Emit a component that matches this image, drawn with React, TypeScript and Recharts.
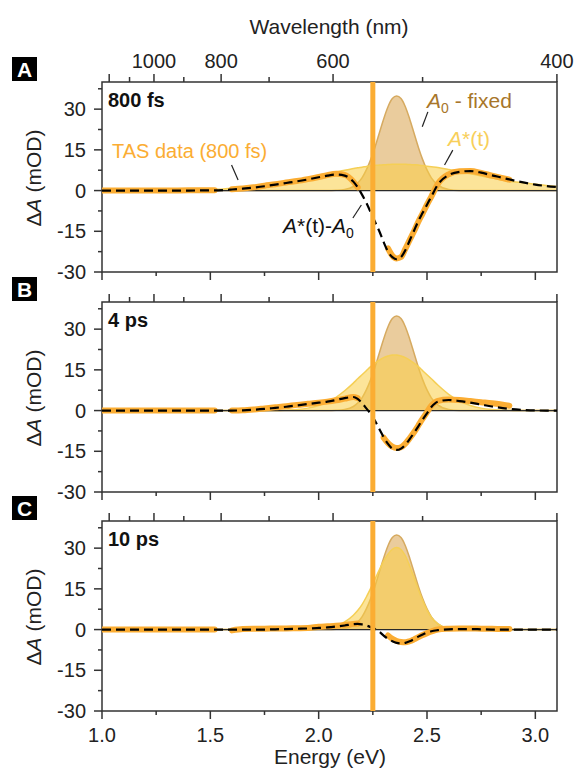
import React from 'react';
import { ComposedChart, Area, Line, XAxis, YAxis, ReferenceLine, ReferenceArea } from 'recharts';

// photon energy grid (eV) shared by every trace
const energy = [
  1.0, 1.1, 1.2, 1.3, 1.4, 1.5, 1.52, 1.56,
  1.6, 1.65, 1.7, 1.75, 1.8, 1.85, 1.9, 1.95,
  2.0, 2.04, 2.08, 2.12, 2.16, 2.18, 2.2, 2.22,
  2.24, 2.26, 2.28, 2.3, 2.32, 2.34, 2.36, 2.38,
  2.4, 2.42, 2.44, 2.46, 2.48, 2.5, 2.52, 2.55,
  2.6, 2.65, 2.7, 2.75, 2.8, 2.85, 2.88, 2.95,
  3.0, 3.05, 3.1,
];

// A0 - fixed (same in all panels), mOD
const a0Fixed = [
  0, 0, 0, 0, 0, 0, 0, 0,
  0, 0, 0, 0, 0, 0, 0, 0,
  0, 0, 0.1, 0.4, 1.5, 2.8, 4.7, 7.6,
  11.4, 16.0, 21.2, 26.4, 30.9, 33.9, 34.8, 33.9,
  30.9, 26.4, 21.2, 16.0, 11.4, 7.6, 4.7, 2.1,
  0.4, 0.05, 0, 0, 0, 0, 0, 0,
  0, 0, 0,
];

// panel A - 800 fs
const aStar800fs = [
  0, 0, 0, 0, 0, 0.3, 0.4, 0.6,
  0.9, 1.2, 1.6, 2.0, 2.6, 3.2, 3.9, 4.7,
  5.5, 6.2, 6.9, 7.5, 8.1, 8.4, 8.6, 8.9,
  9.1, 9.3, 9.4, 9.5, 9.6, 9.7, 9.7, 9.7,
  9.7, 9.6, 9.5, 9.4, 9.2, 9.0, 8.8, 8.5,
  7.8, 7.0, 6.2, 5.4, 4.6, 3.8, 3.4, 2.8,
  2.3, 1.9, 1.5,
];
const tas800fs = [
  0, 0, 0, 0, 0.1, 0.1, 0.1, null,
  0.5, 0.8, 1.2, 1.8, 2.3, 3.0, 3.5, 4.2,
  5.0, 5.7, 6.2, 5.8, 3.3, 1.2, null, null,
  null, null, null, null, -21.3, -24, -25, -24.5,
  -21.5, -18.2, -15, -11.5, -8.4, -5.2, -2.2, 2.5,
  6.0, 7.1, 7.2, 6.5, 5.5, 4.6, 4.0, null,
  null, null, null,
];
const fit800fs = [
  0, 0, 0, 0, 0, 0.1, 0.1, 0.2,
  0.4, 0.7, 1.1, 1.6, 2.2, 2.8, 3.4, 4.1,
  4.9, 5.5, 5.9, 5.5, 3.3, 1.2, -1.5, -4.5,
  -8, -11.5, -15, -19, -22.5, -24.5, -25.3, -24.5,
  -22, -18.4, -14.8, -11.2, -8.2, -5.2, -2.2, 2.2,
  5.7, 6.9, 7.2, 6.6, 5.6, 4.7, 4.1, 2.9,
  2.2, 1.7, 1.3,
];

// panel B - 4 ps
const aStar4ps = [
  0, 0, 0, 0, 0, 0, 0, 0,
  0, 0, 0, 0, 0, 0.15, 0.4, 0.9,
  1.9, 3.1, 4.9, 7.3, 10.1, 11.7, 13.2, 14.7,
  16.2, 17.5, 18.6, 19.5, 20.1, 20.5, 20.5, 20.1,
  19.5, 18.6, 17.5, 16.2, 14.7, 13.2, 11.7, 9.4,
  6.0, 3.5, 1.9, 0.9, 0.4, 0.15, 0.1, 0,
  0, 0, 0,
];
const tas4ps = [
  0, 0, 0, 0, 0, 0, 0, null,
  0, 0.1, 0.4, 0.8, 1.2, 1.6, 2.1, 2.5,
  2.9, 3.3, 3.8, 4.4, 5.0, 4.6, null, null,
  null, null, null, -10, -12, -13.3, -13.8, -13.5,
  -12.2, -10.2, -8, -5.5, -3, -0.6, 1.8, 3.6,
  4.1, 3.9, 3.5, 3.1, 2.7, 2.2, 1.8, null,
  null, null, null,
];
const fit4ps = [
  0, 0, 0, 0, 0, 0, 0, 0,
  0, 0.1, 0.3, 0.6, 1.0, 1.4, 1.9, 2.4,
  2.9, 3.3, 3.9, 4.6, 5.0, 4.3, 2.8, 0.8,
  -1.2, -3.8, -6.8, -9.8, -12.3, -14, -14.5, -14,
  -12.6, -10.5, -8.2, -5.8, -3.3, -1, 1.3, 3.3,
  3.9, 3.5, 2.9, 2.2, 1.5, 0.9, 0.6, 0.2,
  0.05, 0, 0,
];

// panel C - 10 ps
const aStar10ps = [
  0, 0, 0, 0, 0, 0, 0, 0,
  0, 0, 0, 0, 0, 0, 0, 0,
  0.1, 0.4, 1.1, 2.8, 5.3, 7.0, 9.2, 12.0,
  15.2, 18.6, 22.0, 25.2, 27.8, 29.6, 30.2, 29.5,
  27.2, 23.5, 19.2, 14.8, 10.7, 7.2, 4.6, 2.1,
  0.4, 0.05, 0, 0, 0, 0, 0, 0,
  0, 0, 0,
];
const tas10ps = [
  0, 0, 0, 0, 0, 0, 0, null,
  -0.3, 0.2, 0.3, 0.3, 0.4, 0.4, 0.5, 0.6,
  1.0, 1.2, 1.4, 1.7, 2.1, 2.2, null, null,
  null, null, null, null, -2.2, -3.4, -4.2, -4.6,
  -4.7, -4.3, -3.6, -2.8, -2.0, -1.3, -0.7, 0,
  0.3, 0.4, 0.4, 0.3, 0.3, 0.2, 0.2, null,
  null, null, null,
];
const fit10ps = [
  0, 0, 0, 0, 0, 0, 0, 0,
  0, 0, 0, 0, 0.1, 0.2, 0.3, 0.4,
  0.6, 0.8, 1.1, 1.5, 2.0, 2.1, 1.9, 1.5,
  0.9, 0.2, -0.8, -2.2, -3.4, -4.3, -4.9, -5.1,
  -4.9, -4.3, -3.5, -2.6, -1.8, -1.1, -0.6, -0.2,
  0.1, 0.2, 0.2, 0.1, 0, 0, 0, 0,
  0, 0, 0,
];

// axes
const yTicks = [-30, -22.5, -15, -7.5, 0, 7.5, 15, 22.5, 30, 37.5];
const yLabelTicks = [-30, -15, 0, 15, 30];
const eTicks = [1.0, 1.25, 1.5, 1.75, 2.0, 2.25, 2.5, 2.75, 3.0];
const eLabelTicks = [1.0, 1.5, 2.0, 2.5, 3.0];
const nmTicks = [1200, 1100, 1000, 900, 800, 700, 600, 500, 400];
const nmMajor = [1200, 1000, 800, 600, 400];
const nmLabels = [1000, 800, 600, 400];
const pumpEnergy = 2.25;

const nmToEv = (nm: number) => 1239.84 / nm;

const FONT = '"Liberation Sans", Arial, Helvetica, sans-serif';
const AXIS = '#333';
const TAS = '#fbad33';
const A0_FILL = '#d9a24c';
const A0_LINE = '#d6aa60';
const ASTAR_FILL = '#f9cd45';
const ASTAR_LINE = '#f5cf55';

const PLOT_LEFT = 102;
const PLOT_H = 190;
const PAD = 40;
const CHART_W = 578;
const CHART_H = PLOT_H + 2 * PAD;

const panels = [
  { letter: 'A', time: '800 fs', top: 82, aStar: aStar800fs, tas: tas800fs, fit: fit800fs },
  { letter: 'B', time: '4 ps', top: 302, aStar: aStar4ps, tas: tas4ps, fit: fit4ps },
  { letter: 'C', time: '10 ps', top: 521, aStar: aStar10ps, tas: tas10ps, fit: fit10ps },
];

const BottomTick = ({ x, payload, labels }: any) => {
  const v = payload.value;
  const major = eLabelTicks.some((t) => Math.abs(t - v) < 1e-6);
  const yb = PAD + PLOT_H;
  return (
    <g>
      <line x1={x} x2={x} y1={yb} y2={yb + (major ? 8 : 4)} stroke={AXIS} strokeWidth={1.5} />
      {labels && major && (
        <text x={x} y={yb + 31} textAnchor="middle" fontSize={20} fontFamily={FONT} fill="#222">
          {v.toFixed(1)}
        </text>
      )}
    </g>
  );
};

const TopTick = ({ x, payload, labels }: any) => {
  const nm = Math.round(1239.84 / payload.value);
  const major = nmMajor.includes(nm);
  const yt = PAD;
  return (
    <g>
      <line x1={x} x2={x} y1={yt} y2={yt - (major ? 8 : 5)} stroke={AXIS} strokeWidth={1.5} />
      {labels && nmLabels.includes(nm) && (
        <text x={x} y={yt - 14} textAnchor="middle" fontSize={20} fontFamily={FONT} fill="#222">
          {nm}
        </text>
      )}
    </g>
  );
};

const LeftTick = ({ y, payload }: any) => {
  const v = payload.value;
  const major = yLabelTicks.includes(v);
  return (
    <g>
      <line x1={PLOT_LEFT - (major ? 8 : 4)} x2={PLOT_LEFT} y1={y} y2={y} stroke={AXIS} strokeWidth={1.5} />
      {major && (
        <text x={PLOT_LEFT - 16} y={y + 7} textAnchor="end" fontSize={20} fontFamily={FONT} fill="#222">
          {v}
        </text>
      )}
    </g>
  );
};

function Panel({ p, first, last }: any) {
  const rows = energy.map((e, i) => ({
    e,
    a0: a0Fixed[i],
    aStar: p.aStar[i],
    tas: p.tas[i],
    fit: p.fit[i],
  }));

  return (
    <div style={{ position: 'absolute', left: 0, top: p.top - PAD, width: CHART_W, height: CHART_H }}>
      <ComposedChart
        width={CHART_W}
        height={CHART_H}
        data={rows}
        margin={{ top: PAD - 20, right: 21, bottom: PAD - 20, left: PLOT_LEFT - 60 }}
      >
        <XAxis
          xAxisId="e"
          dataKey="e"
          type="number"
          domain={[1, 3.1]}
          ticks={eTicks}
          interval={0}
          height={20}
          tickLine={false}
          axisLine={false}
          allowDataOverflow
          tick={(props: any) => <BottomTick {...props} labels={last} />}
        />
        <XAxis
          xAxisId="nm"
          dataKey="e"
          type="number"
          orientation="top"
          domain={[1, 3.1]}
          ticks={nmTicks.map(nmToEv)}
          interval={0}
          height={20}
          tickLine={false}
          axisLine={false}
          allowDataOverflow
          tick={(props: any) => <TopTick {...props} labels={first} />}
        />
        <YAxis
          type="number"
          domain={[-30, 40]}
          ticks={yTicks}
          interval={0}
          width={60}
          tickLine={false}
          axisLine={false}
          allowDataOverflow
          tick={(props: any) => <LeftTick {...props} />}
        />
        <Area
          xAxisId="e"
          dataKey="a0"
          type="monotone"
          fill={A0_FILL}
          fillOpacity={0.55}
          stroke={A0_LINE}
          strokeWidth={1.5}
          dot={false}
          activeDot={false}
          isAnimationActive={false}
        />
        <Area
          xAxisId="e"
          dataKey="aStar"
          type="monotone"
          fill={ASTAR_FILL}
          fillOpacity={0.55}
          stroke={ASTAR_LINE}
          strokeWidth={1.5}
          dot={false}
          activeDot={false}
          isAnimationActive={false}
        />
        <ReferenceLine xAxisId="e" y={0} stroke="#2a2a2a" strokeWidth={1.3} />
        <Line
          xAxisId="e"
          dataKey="tas"
          type="monotone"
          stroke={TAS}
          strokeWidth={6}
          strokeLinecap="round"
          dot={false}
          activeDot={false}
          connectNulls={false}
          isAnimationActive={false}
        />
        <Line
          xAxisId="e"
          dataKey="fit"
          type="monotone"
          stroke="#000"
          strokeWidth={2.2}
          strokeDasharray="9 5"
          dot={false}
          activeDot={false}
          isAnimationActive={false}
        />
        <ReferenceLine xAxisId="e" x={pumpEnergy} stroke={TAS} strokeWidth={5} />
        {first && (
          <>
            <ReferenceLine xAxisId="e" segment={[{ x: 1.598, y: 9.4 }, { x: 1.628, y: 3.9 }]} stroke="#222" strokeWidth={1.2} />
            <ReferenceLine xAxisId="e" segment={[{ x: 2.504, y: 29 }, { x: 2.478, y: 23.5 }]} stroke="#222" strokeWidth={1.2} />
            <ReferenceLine xAxisId="e" segment={[{ x: 2.619, y: 14.9 }, { x: 2.581, y: 9.4 }]} stroke="#222" strokeWidth={1.2} />
            <ReferenceLine xAxisId="e" segment={[{ x: 2.158, y: -10.1 }, { x: 2.197, y: -5.3 }]} stroke="#222" strokeWidth={1.2} />
          </>
        )}
        <ReferenceArea
          xAxisId="e"
          x1={1}
          x2={3.1}
          y1={-30}
          y2={40}
          fill="none"
          fillOpacity={0}
          stroke={AXIS}
          strokeWidth={1.5}
        />
      </ComposedChart>
    </div>
  );
}

export default function App() {
  return (
    <div
      style={{
        position: 'absolute',
        left: 0,
        top: 0,
        width: 578,
        height: 771,
        background: '#fff',
        fontFamily: FONT,
        overflow: 'hidden',
      }}
    >
      {panels.map((p, i) => (
        <Panel key={p.letter} p={p} first={i === 0} last={i === panels.length - 1} />
      ))}
      <svg
        width={578}
        height={771}
        style={{ position: 'absolute', left: 0, top: 0, pointerEvents: 'none' }}
        fontFamily={FONT}
      >
        <text x={329} y={34} textAnchor="middle" fontSize={21} fill="#222">
          Wavelength (nm)
        </text>
        <text x={330} y={764} textAnchor="middle" fontSize={21} fill="#222">
          Energy (eV)
        </text>
        {panels.map((p) => (
          <g key={p.letter}>
            <rect x={12} y={p.top - 25} width={25} height={24} fill="#000" />
            <text x={24.5} y={p.top - 5} textAnchor="middle" fontSize={21} fontWeight="bold" fill="#fff">
              {p.letter}
            </text>
            <text x={108} y={p.top + 25} fontSize={20} fontWeight="bold" fill="#111">
              {p.time}
            </text>
            <text
              transform={`translate(41, ${p.top + 96}) rotate(-90)`}
              textAnchor="middle"
              fontSize={21}
              fill="#222"
            >
              Δ<tspan fontStyle="italic">A</tspan> (mOD)
            </text>
          </g>
        ))}
        <text x={427} y={108} fontSize={21} fill="#a8762a">
          <tspan fontStyle="italic">A</tspan>
          <tspan fontSize={14} dy={5}>0</tspan>
          <tspan dy={-5}> - fixed</tspan>
        </text>
        <text x={448} y={146} fontSize={21} fill="#f8cf5a">
          <tspan fontStyle="italic">A</tspan>*(t)
        </text>
        <text x={112} y={158} fontSize={20} fill={TAS}>
          TAS data (800 fs)
        </text>
        <text x={283} y={233} fontSize={21} fill="#111">
          <tspan fontStyle="italic">A</tspan>*(t)-<tspan fontStyle="italic">A</tspan>
          <tspan fontSize={14} dy={5}>0</tspan>
        </text>
      </svg>
    </div>
  );
}
